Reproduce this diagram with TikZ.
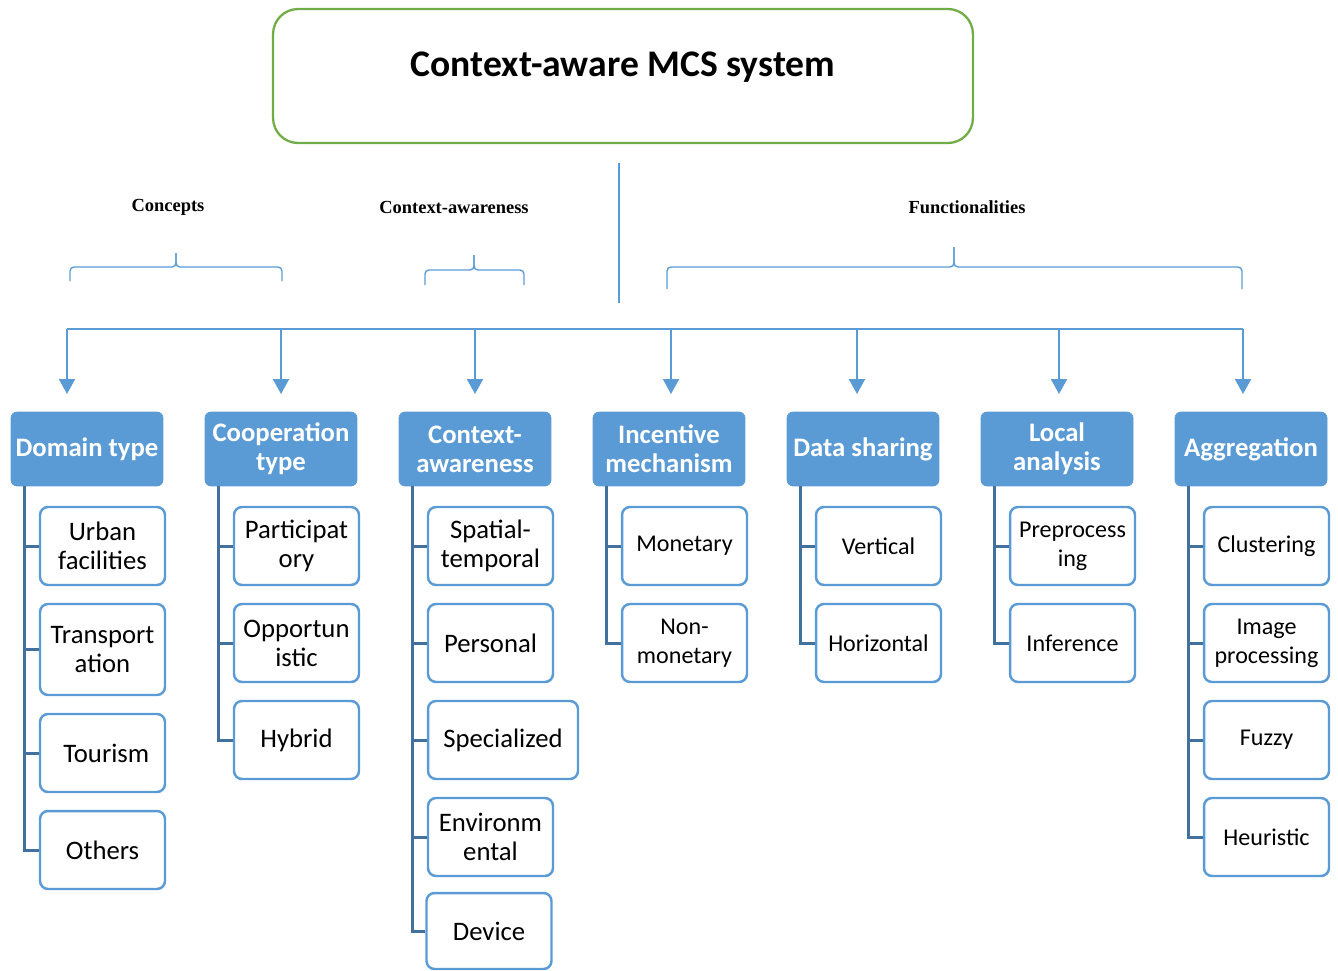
\documentclass[tikz,border=0pt]{standalone}
\usepackage{fontspec}
\setmainfont{Carlito}
\newfontfamily\timesfont{Liberation Serif}
\usetikzlibrary{arrows.meta, positioning, calc}

\definecolor{hdblue}{HTML}{5B9BD5}
\definecolor{treeblue}{HTML}{41719C}
\definecolor{topgreen}{HTML}{70AD47}

\tikzset{
  head/.style={draw=hdblue, fill=hdblue, rounded corners=0.12cm, minimum width=3.04cm, minimum height=1.48cm,
    text=white, font=\fontsize{15.2}{16.5}\selectfont\bfseries, align=center, inner sep=1pt},
  leaf/.style={draw=hdblue, fill=white, line width=1.4pt, rounded corners=0.16cm, minimum width=2.5cm,
    minimum height=1.56cm, font=\fontsize{13.7}{16.5}\selectfont, align=center, inner sep=1pt},
  bigleaf/.style={leaf, font=\fontsize{15.2}{16.5}\selectfont},
  tree/.style={draw=treeblue, line width=1.7pt},
  bus/.style={draw=hdblue, line width=1.1pt},
  arr/.style={bus, -{Triangle[width=0.32cm,length=0.3cm]}},
  brc/.style={draw=hdblue, line width=0.8pt, rounded corners=0.08cm},
  grp/.style={font=\timesfont\fontsize{10.5}{12}\selectfont\bfseries},
}

\begin{document}
\begin{tikzpicture}[x=0.02cm, y=-0.02cm]
	\useasboundingbox (0,0) rectangle (1338,970);
	% root
	\node[draw=topgreen, line width=1.3pt, rounded corners=0.5cm, minimum width=14cm, inner sep=0pt,
		text height=1.34cm, text depth=1.34cm, font=\fontsize{21.4}{25}\selectfont\bfseries] (root) at (623,76) {Context-aware MCS system};
	\coordinate (stemtop) at (619,163);
	\coordinate (stembot) at (619,303);
	\draw[brc] (stemtop) -- (stembot);
	% groups
	\node[grp] (gcon) at (168,207) {Concepts};
	\node[grp] (gctx) at (454,207) {Context-awareness};
	\node[grp] (gfun) at (967,207) {Functionalities};
	\draw[brc] (70,281) -- (70,267) -- (176,267) -- (176,253);
	\draw[brc] (282,281) -- (282,267) -- (176,267) -- (176,253);
	\draw[brc] (425,285) -- (425,270) -- (474,270) -- (474,255);
	\draw[brc] (524,285) -- (524,270) -- (474,270) -- (474,255);
	\draw[brc] (667,289) -- (667,267) -- (954,267) -- (954,247);
	\draw[brc] (1242,289) -- (1242,267) -- (954,267) -- (954,247);
	% bus and arrows
	\coordinate (busL) at (67,329);
	\coordinate (busR) at (1243,329);
	\draw[bus] (busL) -- (busR);
	\foreach \x [count=\i] in {67,281,475,671,857,1059,1243} {
		\coordinate (tip\i) at (\x,394);
		\draw[arr] (tip\i |- busL) -- (tip\i);
	}
	% headings
	\node[head] (dom) at (87,449) {Domain type};
	\node[head] (coop) at (281,449) {Cooperation\\type};
	\node[head] (ctx) at (475,449) {Context-\\awareness};
	\node[head] (inc) at (669,449) {Incentive\\mechanism};
	\node[head] (dsh) at (863,449) {Data sharing};
	\node[head] (loc) at (1057,449) {Local\\analysis};
	\node[head] (agg) at (1251,449) {Aggregation};
	% leaves
	\node[bigleaf] (d1) at (102.5,546) {Urban\\facilities};
	\node[bigleaf, minimum height=1.82cm] (d2) at (102.5,649.5) {Transport\\ation};
	\node[bigleaf] (d3) at (102.5,753) {\hspace{0.15cm}Tourism};
	\node[bigleaf] (d4) at (102.5,850) {Others};
	\node[bigleaf] (c1) at (296.5,546) {Participat\\ory};
	\node[bigleaf] (c2) at (296.5,643) {Opportun\\istic};
	\node[bigleaf] (c3) at (296.5,740) {Hybrid};
	\node[bigleaf] (x1) at (490.5,546) {Spatial-\\temporal};
	\node[bigleaf] (x2) at (490.5,643) {Personal};
	\node[bigleaf, minimum width=3cm] (x3) at (503,740) {Specialized};
	\node[bigleaf] (x4) at (490.5,837) {Environm\\ental};
	\node[bigleaf, minimum height=1.52cm] (x5) at (489,931) {Device};
	\node[leaf] (i1) at (684.5,546) {Monetary};
	\node[leaf] (i2) at (684.5,643) {Non-\\monetary};
	\node[leaf] (s1) at (878.5,546) {Vertical};
	\node[leaf] (s2) at (878.5,643) {Horizontal};
	\node[leaf] (l1) at (1072.5,546) {Preprocess\\ing};
	\node[leaf] (l2) at (1072.5,643) {Inference};
	\node[leaf] (g1) at (1266.5,546) {Clustering};
	\node[leaf] (g2) at (1266.5,643) {Image\\processing};
	\node[leaf] (g3) at (1266.5,740) {Fuzzy};
	\node[leaf] (g4) at (1266.5,837) {Heuristic};
	% tree lines
	\foreach \hd/\last in {dom/d4,coop/c3,ctx/x5,inc/i2,dsh/s2,loc/l2,agg/g4} {
		\coordinate (\hd-t) at ([xshift=0.28cm]\hd.south west);
		\draw[tree] (\hd-t) |- (\last.west);
	}
	\foreach \hd/\lf in {dom/d1,dom/d2,dom/d3,coop/c1,coop/c2,ctx/x1,ctx/x2,ctx/x3,ctx/x4,
		inc/i1,dsh/s1,loc/l1,agg/g1,agg/g2,agg/g3}
		\draw[tree] (\hd-t |- \lf.west) -- (\lf.west);
\end{tikzpicture}
\end{document}
